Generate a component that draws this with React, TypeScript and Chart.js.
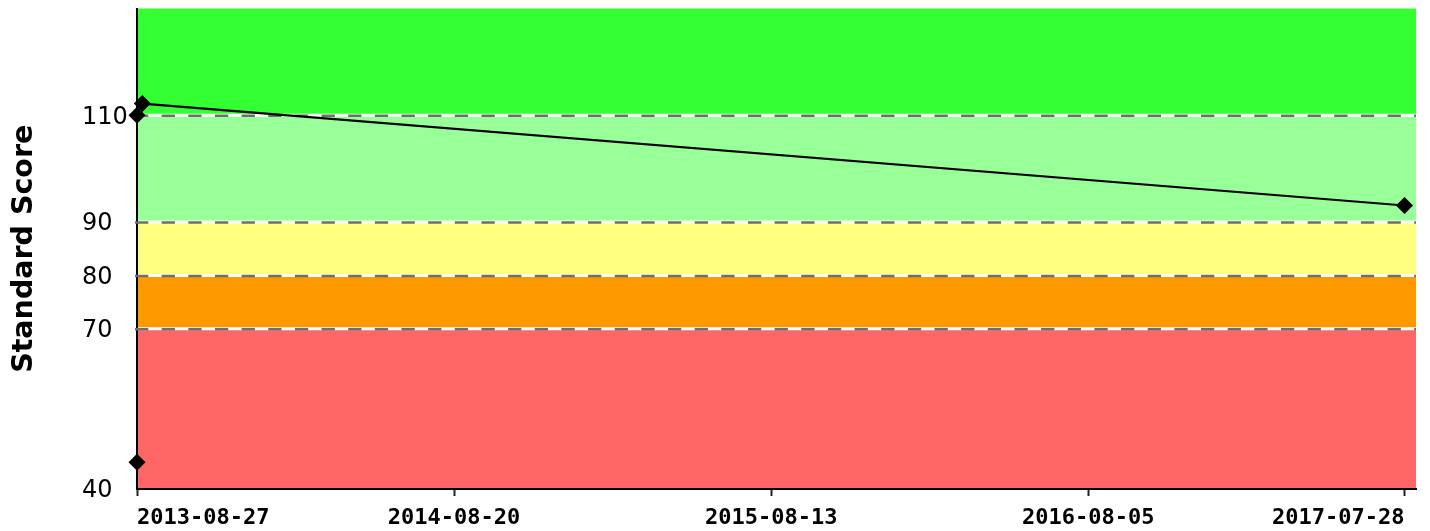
import React, { useEffect, useRef } from 'react';
import { Chart, registerables } from 'chart.js';

Chart.register(...registerables);

// ---- data ----
const tickDates = ['2013-08-27', '2014-08-20', '2015-08-13', '2016-08-05', '2017-07-28'];
const yTickValues = [40, 70, 80, 90, 110];
const trendDates = ['2013-09-02', '2017-07-28'];
const trendScores = [112.2, 93.1];
const singleDates = ['2013-08-27', '2013-08-27'];
const singleScores = [110, 45];
const bandLimits = [40, 70, 80, 90, 110, 130];
const bandColors = ['#ff6666', '#ff9900', '#ffff80', '#99ff99', '#33ff33'];
const dashedLevels = [70, 80, 90, 110];
const xMinDate = '2013-08-27';
const xMaxDate = '2017-08-10';
const yAxisTitle = 'Standard Score';

const toMs = (d: string) => Date.parse(d + 'T00:00:00Z');

const bandsPlugin = {
  id: 'scoreBands',
  beforeDraw(chart: any) {
    const { ctx, chartArea: a, scales } = chart;
    const y = scales.y;
    ctx.save();
    for (let i = 0; i < bandColors.length; i++) {
      const top = y.getPixelForValue(bandLimits[i + 1]);
      const bot = y.getPixelForValue(bandLimits[i]);
      ctx.fillStyle = bandColors[i];
      ctx.fillRect(a.left, top, a.right - a.left, bot - top);
    }
    ctx.restore();
  },
  beforeDatasetsDraw(chart: any) {
    const { ctx, chartArea: a, scales } = chart;
    const y = scales.y;
    ctx.save();
    for (const v of dashedLevels) {
      const py = y.getPixelForValue(v);
      ctx.lineWidth = 3;
      ctx.setLineDash([]);
      ctx.strokeStyle = '#ffffff';
      ctx.beginPath();
      ctx.moveTo(a.left + 1, py);
      ctx.lineTo(a.right, py);
      ctx.stroke();
      ctx.strokeStyle = '#6e6e6e';
      ctx.lineWidth = 2.5;
      ctx.setLineDash([13.3, 13.35]);
      ctx.lineDashOffset = 0;
      ctx.beginPath();
      ctx.moveTo(a.left - 2, py + 0.5);
      ctx.lineTo(a.right, py + 0.5);
      ctx.stroke();
    }
    ctx.restore();
  },
};

export default function App() {
  const canvasRef = useRef<HTMLCanvasElement | null>(null);

  useEffect(() => {
    document.body.style.margin = '0';
    const canvas = canvasRef.current;
    if (!canvas) return;
    const chart = new Chart(canvas, {
      type: 'line',
      data: {
        datasets: [
          {
            label: 'trend',
            data: trendDates.map((d, i) => ({ x: toMs(d), y: trendScores[i] })),
            borderColor: '#000000',
            backgroundColor: '#000000',
            borderWidth: 2.2,
            pointStyle: 'rectRot',
            pointRadius: 8.5,
            pointBorderWidth: 0,
            tension: 0,
            clip: false as any,
          },
          {
            label: 'single',
            data: singleDates.map((d, i) => ({ x: toMs(d), y: singleScores[i] })),
            showLine: false,
            borderColor: '#000000',
            backgroundColor: '#000000',
            pointStyle: 'rectRot',
            pointRadius: 8.5,
            pointBorderWidth: 0,
            clip: false as any,
          },
        ],
      },
      options: {
        animation: false,
        responsive: false,
        maintainAspectRatio: false,
        devicePixelRatio: 1,
        layout: { padding: { left: 82, right: 14, top: 7, bottom: 0 } },
        plugins: {
          legend: { display: false },
          tooltip: { enabled: false },
        },
        scales: {
          x: {
            type: 'linear',
            min: toMs(xMinDate),
            max: toMs(xMaxDate),
            afterBuildTicks: (scale: any) => {
              scale.ticks = tickDates.map((d) => ({ value: toMs(d) }));
            },
            afterFit: (scale: any) => {
              scale.height = 42;
              scale.paddingLeft = 0;
              scale.paddingRight = 0;
            },
            ticks: {
              autoSkip: false,
              maxRotation: 0,
              minRotation: 0,
              align: 'inner',
              padding: 9,
              color: '#000000',
              font: { family: '"DejaVu Sans Mono"', size: 22, weight: 'bold' },
              callback: (value: any) => {
                const idx = tickDates.findIndex((d) => toMs(d) === value);
                return idx >= 0 ? tickDates[idx] : '';
              },
            },
            grid: {
              display: true,
              drawOnChartArea: false,
              drawTicks: true,
              tickLength: 7,
              tickWidth: 2,
              tickColor: '#222222',
            },
            border: { display: true, color: '#000000', width: 2 },
          },
          y: {
            type: 'linear',
            min: 40,
            max: 130,
            afterBuildTicks: (scale: any) => {
              scale.ticks = yTickValues.map((v) => ({ value: v }));
            },
            afterFit: (scale: any) => {
              scale.width = 55;
              scale.paddingTop = 0;
              scale.paddingBottom = 0;
            },
            ticks: {
              crossAlign: 'far',
              labelOffset: 2,
              color: '#000000',
              font: { family: '"DejaVu Sans"', size: 24, weight: 'normal' },
              callback: (value: any) => String(value),
            },
            grid: { display: false },
            border: { display: true, color: '#000000', width: 2 },
            title: {
              display: true,
              text: yAxisTitle,
              color: '#000000',
              font: { family: '"DejaVu Sans"', size: 28.5, weight: 'bold' },
              padding: { top: -75, bottom: 0 },
            },
          },
        },
      },
      plugins: [bandsPlugin],
    } as any);
    return () => chart.destroy();
  }, []);

  return (
    <div style={{ width: 1430, height: 531 }}>
      <canvas ref={canvasRef} width={1430} height={531} style={{ display: 'block', width: 1430, height: 531 }} />
    </div>
  );
}
